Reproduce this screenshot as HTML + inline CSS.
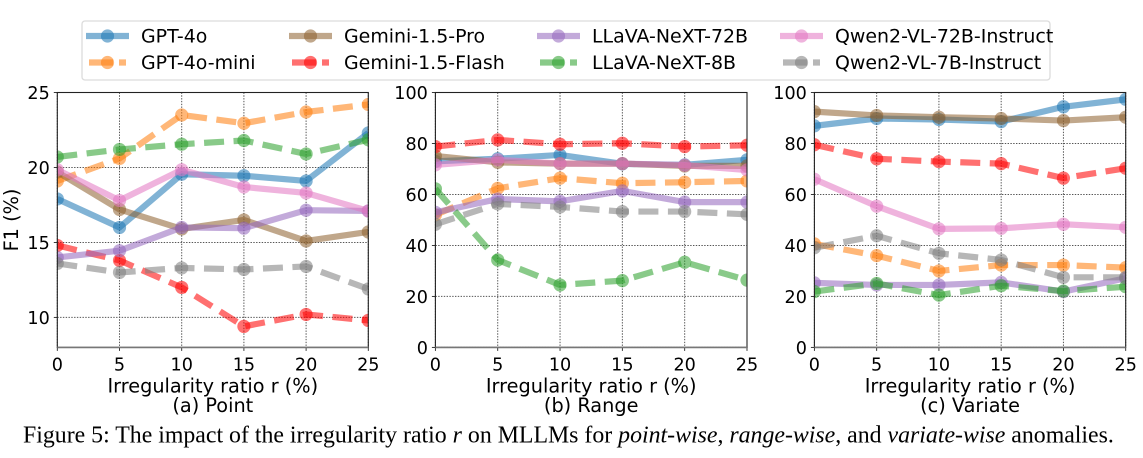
<!DOCTYPE html>
<html lang="en">
<head>
<meta charset="utf-8">
<title>Figure 5: Irregularity ratio impact</title>
<style>
html,body{margin:0;padding:0;background:#fff;}
body{width:1143px;height:458px;overflow:hidden;}
svg{display:block;filter:blur(0.3px);}
text{font-family:"DejaVu Sans","Liberation Sans",sans-serif;fill:#000;}
.caption{font-family:"Liberation Serif",serif;font-size:23.84px;}
</style>
</head>
<body>
<svg id="figure" width="1143" height="458" viewBox="0 0 1143 458" xmlns="http://www.w3.org/2000/svg">
  <rect x="82" y="21" width="968" height="59" rx="3" fill="#fff" stroke="#dcdcdc" stroke-width="1.3"/>
  <g id="plots"></g>
  <g id="legend"></g>
  <text class="caption" x="23" y="442.5">Figure 5: The impact of the irregularity ratio <tspan font-style="italic">r</tspan> on MLLMs for <tspan font-style="italic">point-wise</tspan>, <tspan font-style="italic">range-wise</tspan>, and <tspan font-style="italic">variate-wise</tspan> anomalies.</text>
</svg>
<script>
const ratios = [0, 5, 10, 15, 20, 25];
const seriesNames = ['GPT-4o','GPT-4o-mini','Gemini-1.5-Pro','Gemini-1.5-Flash','LLaVA-NeXT-72B','LLaVA-NeXT-8B','Qwen2-VL-72B-Instruct','Qwen2-VL-7B-Instruct'];
const seriesColors = ['#1f77b4','#ff7f0e','#8f6230','#ff0000','#9467bd','#2ca02c','#e377c2','#7f7f7f'];
const seriesDashed = [false,true,false,true,false,true,false,true];

const pointTicks = [10, 15, 20, 25];
const pointValues = [
  [17.9,16.0,19.55,19.45,19.1,22.3],
  [19.1,20.6,23.5,22.95,23.7,24.2],
  [19.7,17.2,15.9,16.5,15.1,15.7],
  [14.8,13.8,12.0,9.4,10.2,9.8],
  [14.0,14.45,16.0,15.95,17.15,17.1],
  [20.7,21.2,21.55,21.8,20.9,21.85],
  [19.85,17.8,19.85,18.7,18.3,17.1],
  [13.6,13.0,13.3,13.2,13.4,11.9]
];
const rangeTicks = [0, 20, 40, 60, 80, 100];
const rangeValues = [
  [73,74,75.5,72,71.6,73.6],
  [52,62.4,66.4,64.4,64.8,65.3],
  [75.1,72.6,72.1,72.1,71.2,71.2],
  [78.8,81.4,79.7,80.1,78.8,79.3],
  [53,58.2,57.3,61.4,57,57],
  [62.2,34.3,24.5,26.2,33.4,26.4],
  [71.6,73.6,72.1,72.1,71.5,69.6],
  [48.3,56.3,55.1,53.3,53.3,52.2]
];
const variateTicks = [0, 20, 40, 60, 80, 100];
const variateValues = [
  [86.9,89.8,89.4,88.6,94.4,97.3],
  [40.6,36,30,32.3,32.3,31.3],
  [92.5,91,90.3,89.8,89,90.3],
  [79.5,74,72.9,72.1,66.4,70.3],
  [25.3,24.5,24.5,25.5,21.9,27.1],
  [21.9,25.1,20.5,24.2,22.1,23.8],
  [66,55.4,46.5,46.7,48.3,47.1],
  [39.1,43.8,36.9,34.3,27.5,27.5]
];

const NS = 'http://www.w3.org/2000/svg';
const TOP = 92.5, BOTTOM = 347.4;
const LW = 6.2, MR = 6.6, ALPHA = 0.56, DASH = '20 9.5';

function make(parent, tag, attrs, text) {
  const el = document.createElementNS(NS, tag);
  for (const k in attrs) el.setAttribute(k, attrs[k]);
  if (text !== undefined) el.textContent = text;
  parent.appendChild(el);
  return el;
}

function drawPanel(root, key, left, right, yMin, yMax, ticks, values, subtitle, index) {
  const xScale = v => left + (v - ratios[0]) / (ratios[ratios.length - 1] - ratios[0]) * (right - left);
  const yScale = v => BOTTOM - (v - yMin) / (yMax - yMin) * (BOTTOM - TOP);
  const g = make(root, 'g', {});
  
  

  const defs = make(g, 'defs', {});
  const clip = make(defs, 'clipPath', {id: 'clip-' + key});
  make(clip, 'rect', {x: left, y: TOP, width: right - left, height: BOTTOM - TOP});

  ratios.forEach(r => {
    const x = xScale(r);
    const grid = make(g, 'line', {x1: x, x2: x, y1: TOP, y2: BOTTOM, stroke: '#555', 'stroke-width': 1, 'stroke-dasharray': '1.4 1.4'});
    
    
    const tick = make(g, 'line', {x1: x, x2: x, y1: BOTTOM, y2: BOTTOM + 3.5, stroke: '#222', 'stroke-width': 0.9});
    
    
    const label = make(g, 'text', {x: x, y: 370.5, 'text-anchor': 'middle', 'font-size': 17.6}, String(r));
    
    
  });
  ticks.forEach(t => {
    const y = yScale(t);
    const grid = make(g, 'line', {x1: left, x2: right, y1: y, y2: y, stroke: '#555', 'stroke-width': 1, 'stroke-dasharray': '1.4 1.4'});
    
    
    const tick = make(g, 'line', {x1: left - 3.5, x2: left, y1: y, y2: y, stroke: '#222', 'stroke-width': 0.9});
    
    
    const label = make(g, 'text', {x: left - 7.5, y: y + 6.4, 'text-anchor': 'end', 'font-size': 17.6}, String(t));
    
    
  });

  const marks = make(g, 'g', {'clip-path': 'url(#clip-' + key + ')'});
  values.forEach((vals, s) => {
    const series = make(marks, 'g', {});
    
    
    const pts = vals.map((v, i) => xScale(ratios[i]).toFixed(2) + ',' + yScale(v).toFixed(2)).join(' ');
    const attrs = {points: pts, fill: 'none', stroke: seriesColors[s], 'stroke-width': LW, 'stroke-opacity': ALPHA, 'stroke-linejoin': 'round'};
    if (seriesDashed[s]) attrs['stroke-dasharray'] = DASH;
    const line = make(series, 'polyline', attrs);
    
    
    vals.forEach((v, i) => {
      const pt = make(series, 'circle', {cx: xScale(ratios[i]), cy: yScale(v), r: MR, fill: seriesColors[s], 'fill-opacity': ALPHA});
      
      
    });
  });

  const frame = make(g, 'rect', {x: left, y: TOP, width: right - left, height: BOTTOM - TOP, fill: 'none', stroke: '#222', 'stroke-width': 1.1});
  
  
  const base = make(g, 'line', {x1: left, x2: right, y1: BOTTOM, y2: BOTTOM, stroke: '#777', 'stroke-width': 1.6});
  
  

  const cx = (left + right) / 2;
  const xt = make(g, 'text', {x: cx, y: 392.5, 'text-anchor': 'middle', 'font-size': 19.3}, 'Irregularity ratio r (%)');
  
  
  const st = make(g, 'text', {x: cx, y: 412, 'text-anchor': 'middle', 'font-size': 19.3}, subtitle);
  
  
  if (index === 0) {
    const yt = make(g, 'text', {transform: 'translate(18,220) rotate(-90)', 'text-anchor': 'middle', 'font-size': 19.3}, 'F1 (%)');
    
    
  }
}

const plotsRoot = document.getElementById('plots');
drawPanel(plotsRoot, 'point', 57.3, 368.3, 8, 25, pointTicks, pointValues, '(a) Point', 0);
drawPanel(plotsRoot, 'range', 435.4, 747, 0, 100, rangeTicks, rangeValues, '(b) Range', 1);
drawPanel(plotsRoot, 'variate', 814.4, 1125.7, 0, 100, variateTicks, variateValues, '(c) Variate', 2);

const legendRoot = document.getElementById('legend');
const legendColumnX = [86, 289, 537, 780];
const legendRowY = [36, 62.5];
seriesNames.forEach((name, s) => {
  const col = Math.floor(s / 2), row = s % 2;
  const x0 = legendColumnX[col], y = legendRowY[row];
  const entry = make(legendRoot, 'g', {});
  
  
  const attrs = {x1: x0 + (seriesDashed[s] ? 3 : 0), x2: x0 + (seriesDashed[s] ? 40 : 43), y1: y, y2: y, stroke: seriesColors[s], 'stroke-width': LW, 'stroke-opacity': ALPHA};
  if (seriesDashed[s]) attrs['stroke-dasharray'] = '24 6';
  const hl = make(entry, 'line', attrs);
  
  
  const hm = make(entry, 'circle', {cx: x0 + 21.5, cy: y, r: MR, fill: seriesColors[s], 'fill-opacity': ALPHA});
  
  
  const label = make(entry, 'text', {x: x0 + 55, y: y + 6.6, 'font-size': 18.95}, name);
  
  
});
</script>
</body>
</html>
